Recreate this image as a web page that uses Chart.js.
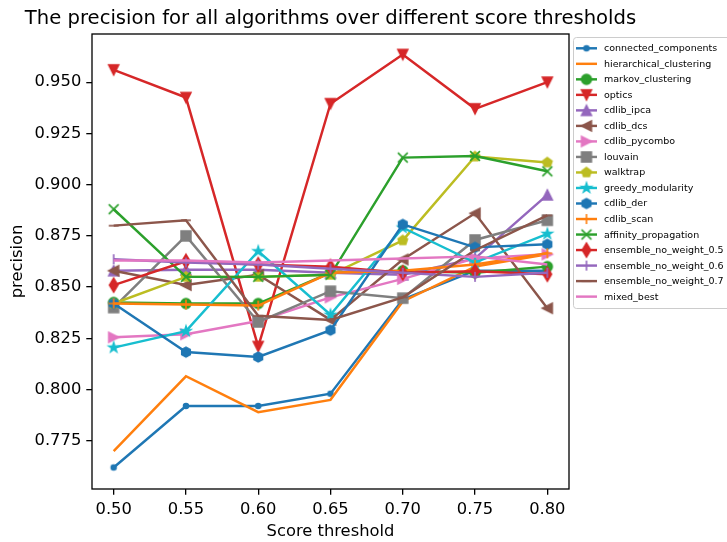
<!DOCTYPE html>
<html>
<head>
<meta charset="utf-8">
<script src="https://cdn.jsdelivr.net/npm/chart.js@4/dist/chart.umd.min.js"></script>
<style>
  html, body { margin: 0; padding: 0; background: #fff; overflow: hidden; }
  canvas { display: block; }
</style>
</head>
<body>
<canvas id="chart" width="727" height="542"></canvas>
<script>
// x values (score thresholds) and y tick values
var thresholds = [0.50, 0.55, 0.60, 0.65, 0.70, 0.75, 0.80];
var precisionTicks = [0.775, 0.800, 0.825, 0.850, 0.875, 0.900, 0.925, 0.950];

var algorithms = [
    'connected_components', 'hierarchical_clustering', 'markov_clustering', 'optics',
    'cdlib_ipca', 'cdlib_dcs', 'cdlib_pycombo', 'louvain', 'walktrap',
    'greedy_modularity', 'cdlib_der', 'cdlib_scan', 'affinity_propagation',
    'ensemble_no_weight_0.5', 'ensemble_no_weight_0.6', 'ensemble_no_weight_0.7', 'mixed_best'
];

// precision per threshold
var connectedComponents = [0.762, 0.792, 0.792, 0.798, 0.844, 0.858, 0.858];
var hierarchicalClustering = [0.770, 0.8065, 0.789, 0.795, 0.843, 0.860, 0.866];
var markovClustering = [0.8425, 0.842, 0.842, 0.857, 0.858, 0.857, 0.860];
var optics = [0.956, 0.9425, 0.821, 0.9395, 0.9635, 0.937, 0.950];
var cdlibIpca = [0.858, 0.8585, 0.8585, 0.857, 0.856, 0.864, 0.895];
var cdlibDcs = [0.858, 0.851, 0.856, 0.834, 0.8635, 0.886, 0.8397];
var cdlibPycombo = [0.8255, 0.827, 0.8335, 0.845, 0.854, 0.864, 0.866];
var louvain = [0.840, 0.875, 0.833, 0.848, 0.8446, 0.873, 0.8826];
var walktrap = [0.842, 0.855, 0.855, 0.856, 0.8728, 0.9137, 0.9108];
var greedyModularity = [0.8205, 0.8285, 0.8675, 0.8365, 0.879, 0.862, 0.876];
var cdlibDer = [0.842, 0.8183, 0.8159, 0.829, 0.8806, 0.8694, 0.8709];
var cdlibScan = [0.842, 0.8415, 0.841, 0.857, 0.858, 0.861, 0.8665];
var affinityPropagation = [0.888, 0.855, 0.855, 0.856, 0.9132, 0.914, 0.9065];
var ensemble05 = [0.851, 0.8626, 0.861, 0.860, 0.857, 0.8577, 0.8563];
var ensemble06 = [0.8636, 0.862, 0.861, 0.859, 0.857, 0.855, 0.857];
var ensemble07 = [0.880, 0.8826, 0.836, 0.834, 0.845, 0.868, 0.885];
var mixedBest = [0.863, 0.863, 0.862, 0.863, 0.864, 0.865, 0.861];

var seriesValues = [
    connectedComponents, hierarchicalClustering, markovClustering, optics,
    cdlibIpca, cdlibDcs, cdlibPycombo, louvain, walktrap, greedyModularity,
    cdlibDer, cdlibScan, affinityPropagation, ensemble05, ensemble06, ensemble07, mixedBest
];

// styles
var tab10 = ['#1f77b4', '#ff7f0e', '#2ca02c', '#d62728', '#9467bd',
             '#8c564b', '#e377c2', '#7f7f7f', '#bcbd22', '#17becf'];
var markers = ['.', '', 'o', 'v', '^', '<', '>', 's', 'p', '*', 'h', '+', 'x', 'd', '|', '_', ''];

var FONT = "'DejaVu Sans', 'Liberation Sans', sans-serif";
var PT = 117.6 / 72;          // px per point
var MS = 6 * PT;              // marker size
var LW = 1.5 * PT;            // line width

function polygon(ctx, n, r, inner) {
    ctx.beginPath();
    var steps = inner ? n * 2 : n;
    for (var k = 0; k < steps; k++) {
        var a = -Math.PI / 2 + k * 2 * Math.PI / steps;
        var rr = (inner && k % 2 === 1) ? r * inner : r;
        var px = rr * Math.cos(a), py = rr * Math.sin(a);
        if (k === 0) ctx.moveTo(px, py); else ctx.lineTo(px, py);
    }
    ctx.closePath();
}

function makeMarker(shape, color) {
    var c = document.createElement('canvas');
    c.width = 20; c.height = 20;
    var ctx = c.getContext('2d');
    ctx.translate(10, 10);
    ctx.fillStyle = color;
    ctx.strokeStyle = color;
    ctx.lineWidth = PT;
    var h = MS / 2;
    var stroked = false;
    switch (shape) {
        case '.': ctx.beginPath(); ctx.arc(0, 0, h / 2, 0, 2 * Math.PI); break;
        case 'o': ctx.beginPath(); ctx.arc(0, 0, h, 0, 2 * Math.PI); break;
        case 'v': ctx.beginPath(); ctx.moveTo(0, h); ctx.lineTo(-h, -h); ctx.lineTo(h, -h); ctx.closePath(); break;
        case '^': ctx.beginPath(); ctx.moveTo(0, -h); ctx.lineTo(-h, h); ctx.lineTo(h, h); ctx.closePath(); break;
        case '<': ctx.beginPath(); ctx.moveTo(-h, 0); ctx.lineTo(h, -h); ctx.lineTo(h, h); ctx.closePath(); break;
        case '>': ctx.beginPath(); ctx.moveTo(h, 0); ctx.lineTo(-h, -h); ctx.lineTo(-h, h); ctx.closePath(); break;
        case 's': ctx.beginPath(); ctx.rect(-h, -h, 2 * h, 2 * h); break;
        case 'p': polygon(ctx, 5, h); break;
        case 'h': polygon(ctx, 6, h); break;
        case '*': polygon(ctx, 5, h, 0.381966); break;
        case 'd':
            var dh = h * Math.SQRT2, dw = dh * 0.6;
            ctx.beginPath(); ctx.moveTo(0, -dh); ctx.lineTo(dw, 0); ctx.lineTo(0, dh); ctx.lineTo(-dw, 0); ctx.closePath();
            break;
        case '+': ctx.beginPath(); ctx.moveTo(-h, 0); ctx.lineTo(h, 0); ctx.moveTo(0, -h); ctx.lineTo(0, h); stroked = true; break;
        case 'x': ctx.beginPath(); ctx.moveTo(-h, -h); ctx.lineTo(h, h); ctx.moveTo(-h, h); ctx.lineTo(h, -h); stroked = true; break;
        case '|': ctx.beginPath(); ctx.moveTo(0, -h); ctx.lineTo(0, h); stroked = true; break;
        case '_': ctx.beginPath(); ctx.moveTo(-h, 0); ctx.lineTo(h, 0); stroked = true; break;
        default: return null;
    }
    if (!stroked) ctx.fill();
    ctx.stroke();
    return c;
}

var datasets = algorithms.map(function (name, i) {
    var color = tab10[i % 10];
    var img = makeMarker(markers[i], color);
    return {
        label: name,
        data: seriesValues[i].map(function (v, j) { return { x: thresholds[j], y: v }; }),
        borderColor: color,
        backgroundColor: color,
        borderWidth: LW,
        tension: 0,
        pointStyle: img || 'circle',
        pointRadius: img ? 5 : 0,
        markerImage: img,
        order: 100 - i
    };
});

// title, frame and outside legend, matplotlib style
var decorations = {
    id: 'decorations',
    afterDatasetsDraw: function (chart) {
        var ctx = chart.ctx, a = chart.chartArea;
        ctx.save();
        ctx.strokeStyle = '#000';
        ctx.lineWidth = 0.8 * PT;
        ctx.strokeRect(a.left, a.top, a.right - a.left, a.bottom - a.top);

        ctx.fillStyle = '#000';
        ctx.font = (12 * PT) + 'px ' + FONT;
        ctx.textAlign = 'center';
        ctx.textBaseline = 'alphabetic';
        ctx.fillText('The precision for all algorithms over different score thresholds',
            (a.left + a.right) / 2, a.top - 6 * PT);

        // legend box
        var lx = 573, ly = 37, lw = 200, lh = 271;
        ctx.beginPath();
        ctx.roundRect(lx + 0.5, ly + 0.5, lw, lh, 3);
        ctx.fillStyle = 'rgba(255,255,255,0.8)';
        ctx.fill();
        ctx.strokeStyle = '#cccccc';
        ctx.lineWidth = 1;
        ctx.stroke();

        ctx.font = '9.5px ' + FONT;
        ctx.textAlign = 'left';
        ctx.textBaseline = 'middle';
        chart.data.datasets.forEach(function (ds, i) {
            var y = 48.3 + 15.52 * i;
            ctx.strokeStyle = ds.borderColor;
            ctx.lineWidth = LW;
            ctx.beginPath();
            ctx.moveTo(576, y);
            ctx.lineTo(597, y);
            ctx.stroke();
            if (ds.markerImage) {
                ctx.drawImage(ds.markerImage, 586.5 - 10, y - 10);
            }
            ctx.fillStyle = '#000';
            ctx.fillText(ds.label, 604, y + 0.5);
        });
        ctx.restore();
    }
};

Chart.defaults.color = '#000';
Chart.defaults.font.family = FONT;

new Chart(document.getElementById('chart'), {
    type: 'line',
    data: { datasets: datasets },
    plugins: [decorations],
    options: {
        responsive: false,
        animation: false,
        events: [],
        devicePixelRatio: 1,
        layout: { padding: { top: 34, right: 158, left: 0, bottom: 0 } },
        plugins: {
            legend: { display: false },
            title: { display: false },
            tooltip: { enabled: false }
        },
        scales: {
            x: {
                type: 'linear',
                min: 0.485,
                max: 0.815,
                afterFit: function (scale) { scale.height = 53; },
                afterBuildTicks: function (scale) {
                    scale.ticks = thresholds.map(function (v) { return { value: v }; });
                },
                ticks: {
                    font: { size: 10 * PT },
                    padding: 5,
                    maxRotation: 0,
                    callback: function (v) { return v.toFixed(2); }
                },
                grid: { drawOnChartArea: false, drawTicks: true, tickLength: 3.5 * PT, color: '#000', lineWidth: 0.8 * PT },
                border: { display: false },
                title: { display: true, text: 'Score threshold', font: { size: 10 * PT }, padding: { top: 0, bottom: 0 } }
            },
            y: {
                min: 0.7515,
                max: 0.9735,
                afterFit: function (scale) { scale.width = 92; },
                afterBuildTicks: function (scale) {
                    scale.ticks = precisionTicks.map(function (v) { return { value: v }; });
                },
                ticks: {
                    font: { size: 10 * PT },
                    padding: 5,
                    callback: function (v) { return v.toFixed(3); }
                },
                grid: { drawOnChartArea: false, drawTicks: true, tickLength: 3.5 * PT, color: '#000', lineWidth: 0.8 * PT },
                border: { display: false },
                title: { display: true, text: 'precision', font: { size: 10 * PT }, padding: { top: 8, bottom: 0 } }
            }
        }
    }
});
</script>
</body>
</html>
